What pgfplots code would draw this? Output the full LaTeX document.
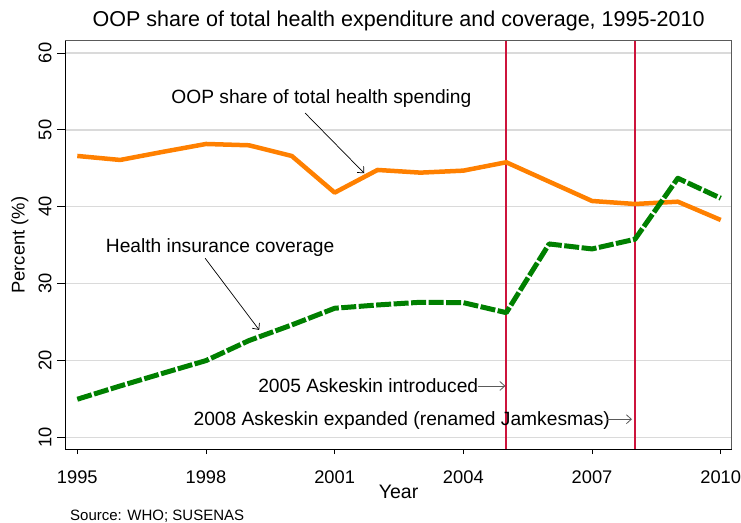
\documentclass[border=0pt]{standalone}
\usepackage{fontspec}
\setmainfont{Liberation Sans}
\usepackage{pgfplots}
\pgfplotsset{compat=1.18}
\usetikzlibrary{arrows.meta}
\definecolor{oop}{RGB}{255,128,0}
\definecolor{cov}{RGB}{0,128,0}
\definecolor{evt}{RGB}{205,20,60}
\definecolor{gridc}{RGB}{218,218,218}
\definecolor{frame}{RGB}{90,90,90}
\newcommand\annot{\fontsize{19.2bp}{22bp}\selectfont}

\begin{document}
\begin{tikzpicture}
\useasboundingbox (-65.5bp,-73.5bp) rectangle (675.5bp,449.5bp);
\begin{axis}[
  at={(0,0)}, anchor=south west, scale only axis,
  width=666.2bp, height=408.8bp,
  xmin=1994.725, xmax=2010.256, ymin=8.4, ymax=61.6,
  clip=false,
  xtick={1995,1998,2001,2004,2007,2010},
  ytick={10,20,30,40,50,60},
  tick pos=left, tick align=outside,
  xtick style={black, line width=0.8bp, /pgfplots/major tick length=4.5bp},
  ytick style={black, line width=0.8bp, /pgfplots/major tick length=8.3bp},
  /pgf/number format/1000 sep={},
  /pgf/number format/assume math mode=true,
  ticklabel style={font=\fontsize{18.3bp}{20bp}\selectfont},
  xticklabel style={anchor=base, inner sep=0pt, yshift=-29.8bp},
  yticklabel style={inner sep=0pt, xshift=-10bp, rotate=90, anchor=base},
  axis line style={frame, line width=0.8bp},
  ymajorgrids, major grid style={gridc, line width=1.4bp},
  title={OOP share of total health expenditure and coverage, 1995-2010},
  title style={at={(axis description cs:0.5,1.02128)}, anchor=base, inner sep=0pt,
    font=\fontsize{21.5bp}{24bp}\selectfont},
  xlabel={Year},
  xlabel style={at={(axis description cs:0.5,-0.11937)}, anchor=base, inner sep=0pt,
    font=\fontsize{19.5bp}{22bp}\selectfont},
  ylabel={Percent (\%)},
  ylabel style={at={(axis description cs:-0.0615,0.5)}, anchor=base, inner sep=0pt,
    font=\fontsize{18.4bp}{21bp}\selectfont},
]
% event lines
\addplot[evt, line width=1.5bp] coordinates {(2005,8.4) (2005,61.6)};
\addplot[evt, line width=1.5bp] coordinates {(2008,8.4) (2008,61.6)};

% OOP share of total health spending
\addplot[oop, line width=4.5bp, line join=round] table {
1995 46.60
1996 46.08
1997 47.14
1998 48.16
1999 47.99
2000 46.60
2001 41.83
2002 44.78
2003 44.43
2004 44.69
2005 45.78
2006 43.26
2007 40.74
2008 40.35
2009 40.65
2010 38.27
};

% Health insurance coverage
\addplot[cov, line width=5bp, line join=round, dash pattern=on 15bp off 2.5bp] table {
1995 14.94
1996 16.67
1997 18.33
1998 19.97
1999 22.57
2000 24.61
2001 26.78
2002 27.21
2003 27.56
2004 27.51
2005 26.21
2006 35.15
2007 34.50
2008 35.76
2009 43.70
2010 41.10
};

% left and bottom axis lines in black
\draw[black, line width=0.9bp] (rel axis cs:0,1) -- (rel axis cs:0,0);
\draw[black, line width=1.3bp] (rel axis cs:0,0) -- (rel axis cs:1,0);

% annotations
\node[anchor=base, inner sep=0pt, font=\annot] at (axis cs:2000.69,53.46) {OOP share of total health spending};
\draw[-{Straight Barb[length=5bp,width=9bp]}, line width=0.7bp] (axis cs:2000.31,52.19) -- (axis cs:2001.69,44.35);
\node[anchor=base, inner sep=0pt, font=\annot] at (axis cs:1998.33,34.02) {Health insurance coverage};
\draw[-{Straight Barb[length=5bp,width=9bp]}, line width=0.7bp] (axis cs:1997.98,33.29) -- (axis cs:1999.24,23.96);
\node[anchor=base east, inner sep=0pt, font=\annot] at (axis cs:2004.35,15.80) {2005 Askeskin introduced};
\draw[-{Straight Barb[length=5bp,width=9bp]}, line width=0.8bp, frame] (axis cs:2004.35,16.67) -- (axis cs:2004.98,16.67);
\node[anchor=base east, inner sep=0pt, font=\annot] at (axis cs:2007.42,11.47) {2008 Askeskin expanded (renamed Jamkesmas)};
\draw[-{Straight Barb[length=5bp,width=9bp]}, line width=0.8bp, frame] (axis cs:2007.34,12.34) -- (axis cs:2007.93,12.34);

% source note
\node[anchor=base west, inner sep=0pt, xshift=4.5bp, yshift=-70.5bp,
  font=\fontsize{15bp}{18bp}\selectfont] at (rel axis cs:0,0) {Source: WHO; SUSENAS};
\end{axis}
\end{tikzpicture}
\end{document}
